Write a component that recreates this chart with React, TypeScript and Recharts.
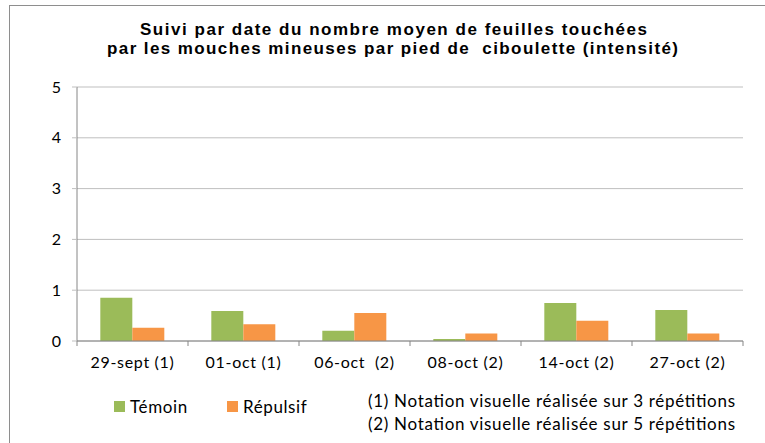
import { Bar, BarChart, CartesianGrid, Legend, XAxis, YAxis } from "recharts";

const dates = [
  "29-sept (1)",
  "01-oct (1)",
  "06-oct  (2)",
  "08-oct (2)",
  "14-oct (2)",
  "27-oct (2)",
];
const temoin = [0.85, 0.59, 0.2, 0.04, 0.75, 0.61];
const repulsif = [0.26, 0.33, 0.55, 0.15, 0.4, 0.15];
const yTicks = [0, 1, 2, 3, 4, 5];
const seriesNames = ["Témoin", "Répulsif"];

const titleLines = [
  "Suivi par date du nombre moyen de feuilles touchées",
  "par les mouches mineuses par pied de  ciboulette (intensité)",
];
const notes = [
  "(1) Notation visuelle réalisée sur 3 répétitions",
  "(2) Notation visuelle réalisée sur 5 répétitions",
];

const GREEN = "#9BBB59";
const ORANGE = "#F79646";
const AXIS = "#868686";
const GRID = "#BFBFBF";
const FONT = "Lato, 'Open Sans', sans-serif";

const data = dates.map((d, i) => ({
  date: d,
  temoin: temoin[i],
  repulsif: repulsif[i],
}));

// category axis: label centred, tick marks on the band edges (Excel style)
function DateTick(props: any) {
  const { x, y, payload, index, width } = props;
  const band =
    payload && payload.offset ? payload.offset * 2 : width / dates.length;
  const last = index === dates.length - 1;
  return (
    <g>
      <line x1={x - band / 2} x2={x - band / 2} y1={y} y2={y + 5} stroke={AXIS} />
      {last && (
        <line x1={x + band / 2} x2={x + band / 2} y1={y} y2={y + 5} stroke={AXIS} />
      )}
      <text
        x={x}
        y={y + 27}
        textAnchor="middle"
        fill="#000"
        fontSize={16}
        letterSpacing={0.7}
        fontFamily={FONT}
        style={{ whiteSpace: "pre" }}
      >
        {payload.value}
      </text>
    </g>
  );
}

function LegendBox({ payload }: any) {
  const items = [...(payload || [])].sort(
    (a: any, b: any) => seriesNames.indexOf(a.value) - seriesNames.indexOf(b.value)
  );
  return (
    <div style={{ display: "flex", fontFamily: FONT, fontSize: 17, lineHeight: "17px", letterSpacing: 0.6 }}>
      {items.map((p: any) => (
        <div key={p.value} style={{ display: "flex", alignItems: "center", width: 113 }}>
          <span
            style={{ width: 11, height: 11, background: p.color, marginRight: 5, display: "inline-block" }}
          />
          <span style={{ color: "#000" }}>{p.value}</span>
        </div>
      ))}
    </div>
  );
}

export default function App() {
  return (
    <div style={{ position: "absolute", left: 0, top: 0, width: 765, height: 443, background: "#fff" }}>
      <BarChart
        width={765}
        height={443}
        data={data}
        margin={{ top: 87, right: 22, bottom: 72, left: 0 }}
        barCategoryGap="21%"
        barGap={0}
      >
        <CartesianGrid vertical={false} stroke={GRID} />
        <XAxis
          dataKey="date"
          height={30}
          tickLine={false}
          tickSize={0}
          tickMargin={0}
          axisLine={{ stroke: AXIS }}
          tick={<DateTick />}
          interval={0}
        />
        <YAxis
          width={77}
          domain={[0, 5]}
          ticks={yTicks}
          tickSize={5}
          tickMargin={11}
          axisLine={{ stroke: AXIS }}
          tickLine={{ stroke: GRID }}
          tick={{ fill: "#000", fontSize: 16, fontFamily: FONT }}
        />
        <Legend
          layout="horizontal"
          verticalAlign="middle"
          align="center"
          wrapperStyle={{ left: 114, top: 398, width: 240 }}
          content={<LegendBox />}
        />
        <Bar dataKey="temoin" name="Témoin" fill={GREEN} isAnimationActive={false} />
        <Bar dataKey="repulsif" name="Répulsif" fill={ORANGE} isAnimationActive={false} />
      </BarChart>

      <svg
        width={765}
        height={443}
        style={{ position: "absolute", left: 0, top: 0, pointerEvents: "none" }}
      >
        <rect x={9.5} y={5.5} width={800} height={500} fill="none" stroke="#8E8E8E" />
        {titleLines.map((t, i) => (
          <text
            key={t}
            x={i === 0 ? 140 : 107}
            y={i === 0 ? 35 : 54}
            textLength={i === 0 ? 507 : 571}
            lengthAdjust="spacing"
            fontFamily="'Liberation Sans', Arial, sans-serif"
            fontWeight="bold"
            fontSize={17}
            fill="#000"
            style={{ whiteSpace: "pre" }}
          >
            {t}
          </text>
        ))}
        {notes.map((n, i) => (
          <text
            key={n}
            x={368}
            y={407 + i * 23}
            textLength={367}
            lengthAdjust="spacing"
            fontFamily={FONT}
            fontSize={17}
            fill="#000"
          >
            {n}
          </text>
        ))}
      </svg>
    </div>
  );
}
